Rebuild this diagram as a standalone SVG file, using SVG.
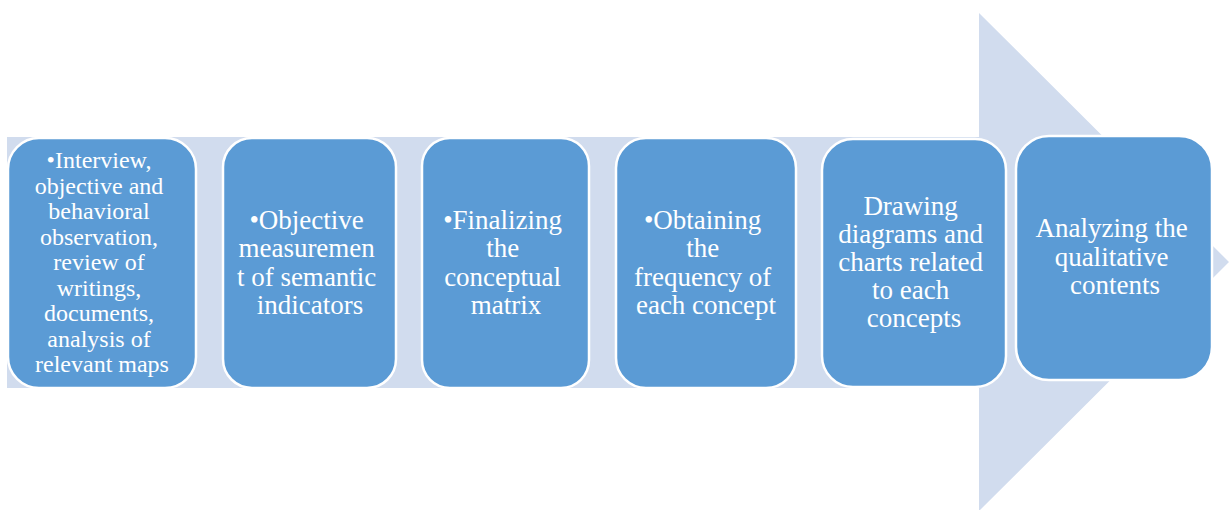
<svg xmlns="http://www.w3.org/2000/svg" width="1230" height="510" viewBox="0 0 1230 510">
  <style>
    .step { fill: #5B9BD5; stroke: #FFFFFF; stroke-width: 2.5; }
    .lbl { font-family: "Liberation Serif", "Times New Roman", serif; fill: #FFFFFF; text-anchor: middle; }
    .sm { font-size: 24px; }
    .md { font-size: 27px; }
  </style>
  <rect width="1230" height="510" fill="#FFFFFF"/>

  <!-- background process arrow -->
  <g id="process-arrow">
    <polygon points="7,137 979,137 979,13 1229,262 979,511 979,388 7,388" fill="#D1DCEE"/>
  </g>

  <g id="step1">
    <rect class="step" x="8" y="138" width="188" height="250" rx="31" ry="31"/>
    <text class="lbl sm">
      <tspan x="102" y="168">•Interview,</tspan>
      <tspan x="102" y="193.5">objective and</tspan>
      <tspan x="102" y="219">behavioral</tspan>
      <tspan x="102" y="244.5">observation,</tspan>
      <tspan x="102" y="270">review of</tspan>
      <tspan x="102" y="295.5">writings,</tspan>
      <tspan x="102" y="321">documents,</tspan>
      <tspan x="102" y="346.5">analysis of</tspan>
      <tspan x="102" y="372">relevant maps</tspan>
    </text>
  </g>

  <g id="step2">
    <rect class="step" x="223" y="138" width="173" height="250" rx="29" ry="29"/>
    <text class="lbl md">
      <tspan x="310" y="229">•Objective</tspan>
      <tspan x="310" y="257.3">measuremen</tspan>
      <tspan x="310" y="285.6">t of semantic</tspan>
      <tspan x="310" y="314">indicators</tspan>
    </text>
  </g>

  <g id="step3">
    <rect class="step" x="422" y="138" width="167" height="250" rx="28" ry="28"/>
    <text class="lbl md">
      <tspan x="506" y="229">•Finalizing</tspan>
      <tspan x="506" y="257.3">the</tspan>
      <tspan x="506" y="285.6">conceptual</tspan>
      <tspan x="506" y="314">matrix</tspan>
    </text>
  </g>

  <g id="step4">
    <rect class="step" x="616" y="138" width="180" height="250" rx="30" ry="30"/>
    <text class="lbl md">
      <tspan x="706" y="229">•Obtaining</tspan>
      <tspan x="706" y="257.3">the</tspan>
      <tspan x="706" y="285.6">frequency of</tspan>
      <tspan x="706" y="314">each concept</tspan>
    </text>
  </g>

  <g id="step5">
    <rect class="step" x="822" y="139" width="184" height="248" rx="31" ry="31"/>
    <text class="lbl md">
      <tspan x="914" y="215">Drawing</tspan>
      <tspan x="914" y="243">diagrams and</tspan>
      <tspan x="914" y="271">charts related</tspan>
      <tspan x="914" y="299">to each</tspan>
      <tspan x="914" y="327">concepts</tspan>
    </text>
  </g>

  <g id="step6">
    <rect class="step" x="1016" y="136" width="196" height="244" rx="33" ry="33"/>
    <text class="lbl md">
      <tspan x="1115" y="237">Analyzing the</tspan>
      <tspan x="1115" y="265.5">qualitative</tspan>
      <tspan x="1115" y="294">contents</tspan>
    </text>
  </g>

  <!-- no separate connectors: the steps sit on the shared arrow -->
  <g id="connectors"/>
</svg>
